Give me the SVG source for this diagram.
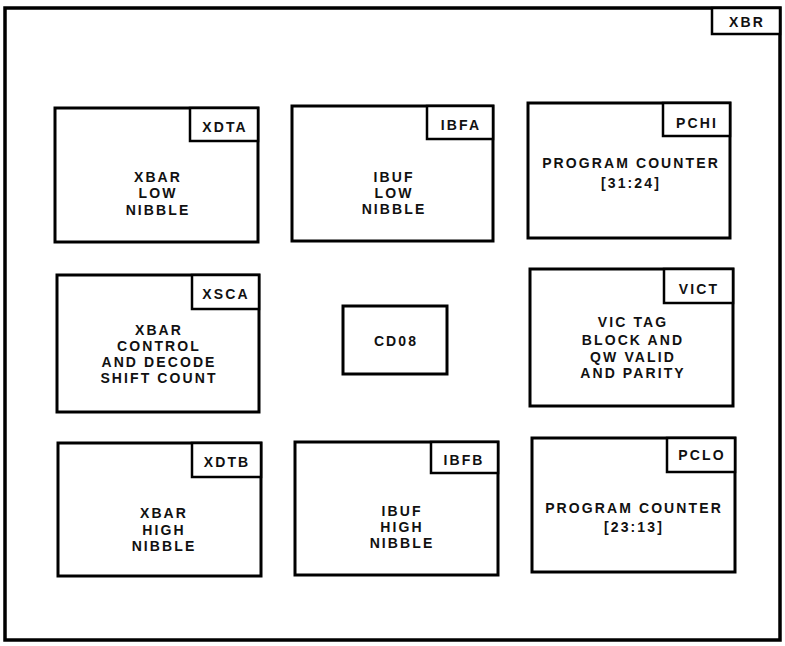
<svg xmlns="http://www.w3.org/2000/svg" width="785" height="646" viewBox="0 0 785 646">
<style>
rect{fill:#fff;stroke:#000}
.frame{stroke-width:3.5}
.box{stroke-width:3}
.tag{stroke-width:2.5}
text{font-family:"Liberation Sans",Arial,sans-serif;font-weight:bold;font-size:14px;letter-spacing:2.1px;text-anchor:middle;fill:#111}
</style>
<rect width="785" height="646" style="stroke:none"/>
<g id="XBR">
<rect class="frame" x="5" y="8" width="775" height="632"/>
<rect class="tag" x="712" y="8" width="68" height="26"/>
<text x="747" y="27">XBR</text>
</g>
<g id="XDTA">
<rect class="box" x="55" y="108" width="203" height="134"/>
<rect class="tag" x="190" y="108" width="68" height="33"/>
<text x="225" y="132">XDTA</text>
<text x="158" y="182">XBAR</text>
<text x="158" y="198">LOW</text>
<text x="158" y="215">NIBBLE</text>
</g>
<g id="IBFA">
<rect class="box" x="292" y="106" width="201" height="135"/>
<rect class="tag" x="427" y="106" width="66" height="33"/>
<text x="461" y="130">IBFA</text>
<text x="394" y="182">IBUF</text>
<text x="394" y="198">LOW</text>
<text x="394" y="214">NIBBLE</text>
</g>
<g id="PCHI">
<rect class="box" x="528" y="103" width="202" height="135"/>
<rect class="tag" x="663" y="103" width="67" height="33"/>
<text x="697" y="128">PCHI</text>
<text x="631" y="168">PROGRAM COUNTER</text>
<text x="631" y="188">[31:24]</text>
</g>
<g id="XSCA">
<rect class="box" x="57" y="275" width="202" height="137"/>
<rect class="tag" x="192" y="275" width="67" height="34"/>
<text x="226" y="299">XSCA</text>
<text x="159" y="335">XBAR</text>
<text x="159" y="351">CONTROL</text>
<text x="159" y="367">AND DECODE</text>
<text x="159" y="383">SHIFT COUNT</text>
</g>
<g id="CD08">
<rect class="box" x="343" y="306" width="104" height="68"/>
<text x="396" y="346">CD08</text>
</g>
<g id="VICT">
<rect class="box" x="530" y="269" width="203" height="137"/>
<rect class="tag" x="664" y="269" width="69" height="34"/>
<text x="699" y="294">VICT</text>
<text x="633" y="327">VIC TAG</text>
<text x="633" y="345">BLOCK AND</text>
<text x="633" y="362">QW VALID</text>
<text x="633" y="378">AND PARITY</text>
</g>
<g id="XDTB">
<rect class="box" x="58" y="443" width="203" height="133"/>
<rect class="tag" x="192" y="443" width="69" height="34"/>
<text x="227" y="467">XDTB</text>
<text x="164" y="518">XBAR</text>
<text x="164" y="535">HIGH</text>
<text x="164" y="551">NIBBLE</text>
</g>
<g id="IBFB">
<rect class="box" x="295" y="442" width="203" height="133"/>
<rect class="tag" x="431" y="442" width="67" height="31"/>
<text x="464" y="465">IBFB</text>
<text x="402" y="516">IBUF</text>
<text x="402" y="532">HIGH</text>
<text x="402" y="548">NIBBLE</text>
</g>
<g id="PCLO">
<rect class="box" x="532" y="438" width="203" height="134"/>
<rect class="tag" x="667" y="438" width="68" height="34"/>
<text x="702" y="460">PCLO</text>
<text x="634" y="513">PROGRAM COUNTER</text>
<text x="634" y="532">[23:13]</text>
</g>
<g id="connectors"/>
</svg>
